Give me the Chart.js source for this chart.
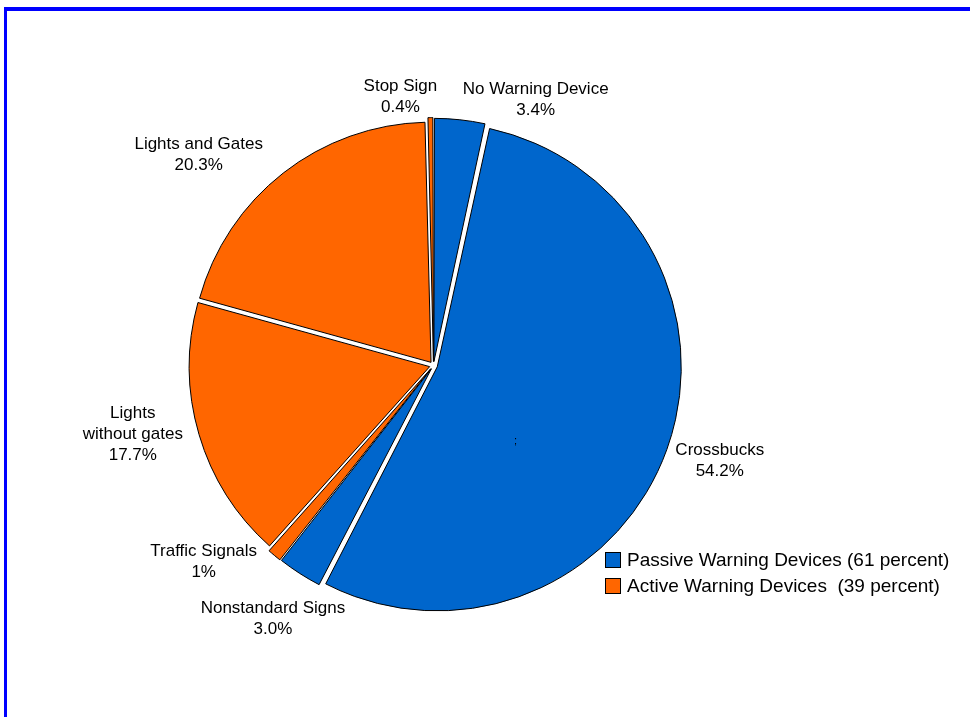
<!DOCTYPE html>
<html>
<head>
<meta charset="utf-8">
<script src="https://cdn.jsdelivr.net/npm/chart.js@4/dist/chart.umd.min.js"></script>
<style>
    body { margin: 0; background: #fff; }
    #wrap { position: relative; width: 970px; height: 717px; overflow: hidden; }
    #frame { position: absolute; left: 4px; top: 7px; right: -10px; bottom: -10px;
             border-top: 4px solid #0000ff; border-left: 3px solid #0000ff; }
    #pie { position: absolute; left: 0; top: 0; }
</style>
</head>
<body>
<div id="wrap">
    <div id="frame"></div>
    <canvas id="pie" width="970" height="717"></canvas>
</div>
<script>
// slices, clockwise from 12 o'clock
const categories = ['No Warning Device', 'Crossbucks', 'Nonstandard Signs', 'Traffic Signals',
                    'Lights without gates', 'Lights and Gates', 'Stop Sign'];
const labelLines = [['No Warning Device'], ['Crossbucks'], ['Nonstandard Signs'], ['Traffic Signals'],
                    ['Lights', 'without gates'], ['Lights and Gates'], ['Stop Sign']];
const shares = [3.4, 54.2, 3.0, 1, 17.7, 20.3, 0.4];
const shareText = ['3.4%', '54.2%', '3.0%', '1%', '17.7%', '20.3%', '0.4%'];
const groups = ['passive', 'passive', 'passive', 'active', 'active', 'active', 'active'];

const legendLabels = ['Passive Warning Devices (61 percent)', 'Active Warning Devices  (39 percent)'];

const groupColors = { passive: '#0066cc', active: '#ff6600' };

// label placement relative to each slice's anchor point
const labelAlign = ['left', 'left', 'center', 'right', 'right', 'right', 'right'];
const labelNudge = [[2, -11], [1, 9], [-22, 38], [-12, 0], [-5, -3], [-13, -9], [7, -13]];

const labelFont = '17px "Liberation Sans", Arial, sans-serif';
const lineH = 21;

const sliceLabels = {
    id: 'sliceLabels',
    afterDatasetsDraw(chart) {
        const ctx = chart.ctx;
        const arcs = chart.getDatasetMeta(0).data;
        ctx.save();
        ctx.font = labelFont;
        ctx.fillStyle = '#000';
        ctx.textBaseline = 'middle';
        arcs.forEach((arc, i) => {
            const p = arc.getProps(['x', 'y', 'startAngle', 'endAngle', 'outerRadius'], true);
            const mid = (p.startAngle + p.endAngle) / 2;
            const r = p.outerRadius + 16;
            const ax = p.x + Math.cos(mid) * r + labelNudge[i][0];
            const ay = p.y + Math.sin(mid) * r + labelNudge[i][1];
            const lines = labelLines[i].concat([shareText[i]]);
            const w = Math.max(...lines.map(l => ctx.measureText(l).width));
            let cx = ax;
            if (labelAlign[i] === 'left') cx = ax + w / 2;
            if (labelAlign[i] === 'right') cx = ax - w / 2;
            const top = ay - (lines.length - 1) * lineH / 2;
            ctx.textAlign = 'center';
            lines.forEach((l, k) => ctx.fillText(l, cx, top + k * lineH));
        });
        // stray mark in the original
        ctx.font = '11px "Liberation Sans", Arial, sans-serif';
        ctx.fillText(';', arcs[1].x + 82, arcs[1].y + 75);

        // group legend
        const lx = 605, ly = 552;
        ctx.font = '19px "Liberation Sans", Arial, sans-serif';
        ctx.textAlign = 'left';
        legendLabels.forEach((t, k) => {
            const y = ly + k * 26;
            ctx.fillStyle = k === 0 ? groupColors.passive : groupColors.active;
            ctx.fillRect(lx, y, 16, 16);
            ctx.strokeStyle = '#000';
            ctx.lineWidth = 1;
            ctx.strokeRect(lx + 0.5, y + 0.5, 15, 15);
            ctx.fillStyle = '#000';
            ctx.fillText(t, lx + 22, y + 9);
        });
        ctx.restore();
    }
};

new Chart(document.getElementById('pie').getContext('2d'), {
    type: 'pie',
    data: {
        labels: categories,
        datasets: [{
            data: shares,
            backgroundColor: groups.map(g => groupColors[g]),
            borderColor: '#000',
            borderWidth: 1,
            offset: 16,
            radius: 240
        }]
    },
    options: {
        responsive: false,
        animation: false,
        layout: { padding: { left: 187, top: 119, right: 290, bottom: 105 } },
        plugins: {
            legend: { display: false },
            tooltip: { enabled: false }
        }
    },
    plugins: [sliceLabels]
});
</script>
</body>
</html>
